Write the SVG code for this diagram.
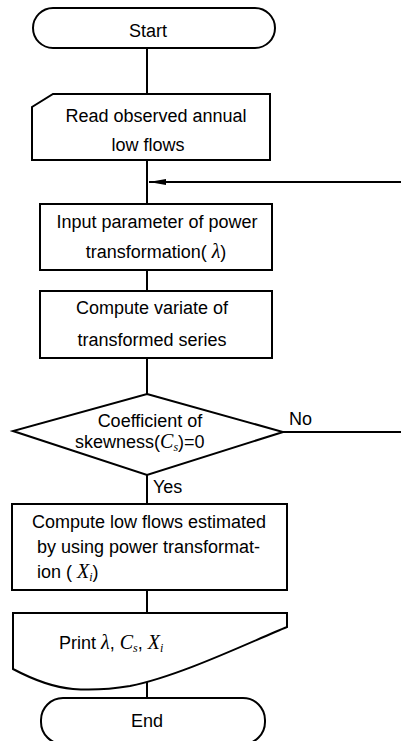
<svg xmlns="http://www.w3.org/2000/svg" width="401" height="741" viewBox="0 0 401 741">
  <style>
    .shape { fill: #fff; stroke: #000; stroke-width: 2; stroke-linejoin: miter; }
    .line { fill: none; stroke: #000; stroke-width: 2; }
    .t { font-family: "Liberation Sans", Arial, sans-serif; font-size: 18px; fill: #000; }
    .c { text-anchor: middle; }
    .m { font-family: "Liberation Serif", "Times New Roman", serif; font-style: italic; font-size: 20px; }
    .sub { font-size: 12px; }
  </style>
  <defs>
    <marker id="arrow" markerWidth="18" markerHeight="8" refX="17" refY="4" orient="auto" markerUnits="userSpaceOnUse">
      <path d="M0,1 L17,4 L0,7 Z" fill="#000"/>
    </marker>
  </defs>
  <rect width="401" height="741" fill="#fff"/>

  <!-- connectors -->
  <g id="connectors">
    <line class="line" x1="147" y1="48" x2="147" y2="94"/>
    <line class="line" x1="147" y1="160" x2="147" y2="204"/>
    <line class="line" x1="401" y1="182" x2="149" y2="182" marker-end="url(#arrow)"/>
    <line class="line" x1="147" y1="270" x2="147" y2="291"/>
    <line class="line" x1="147" y1="358" x2="147" y2="394"/>
    <line class="line" x1="283" y1="432" x2="401" y2="432"/>
    <line class="line" x1="147" y1="475" x2="147" y2="504"/>
    <line class="line" x1="147" y1="590" x2="147" y2="613"/>
    <line class="line" x1="147" y1="682" x2="147" y2="698"/>
    <text class="t" x="289" y="425">No</text>
    <text class="t" x="153" y="493">Yes</text>
  </g>

  <!-- start terminal -->
  <g id="start">
    <rect class="shape" x="33" y="8" width="242" height="40" rx="20" ry="20"/>
    <text class="t c" x="148" y="37">Start</text>
  </g>

  <!-- read input card -->
  <g id="read">
    <path class="shape" d="M53,94 H270 V160 H32 V107 Z"/>
    <text class="t c" x="156" y="122">Read observed annual</text>
    <text class="t c" x="148" y="151">low flows</text>
  </g>

  <!-- lambda input -->
  <g id="input">
    <rect class="shape" x="40" y="204" width="232" height="66"/>
    <text class="t c" x="157" y="228">Input parameter of power</text>
    <text class="t c" x="156" y="258">transformation(<tspan class="m"> λ</tspan>)</text>
  </g>

  <!-- transform -->
  <g id="transform">
    <rect class="shape" x="40" y="291" width="232" height="67"/>
    <text class="t c" x="152" y="314">Compute variate of</text>
    <text class="t c" x="152" y="346">transformed series</text>
  </g>

  <!-- skewness decision -->
  <g id="decision">
    <path class="shape" d="M147,394 L283,432 L147,475 L13,431 Z"/>
    <text class="t c" x="150" y="427">Coefficient of</text>
    <text class="t" x="75" y="448">skewness(<tspan class="m">C</tspan><tspan class="m sub" dy="3">s</tspan><tspan dy="-3">)=0</tspan></text>
  </g>

  <!-- estimate -->
  <g id="estimate">
    <rect class="shape" x="12" y="504" width="275" height="86"/>
    <text class="t" x="32" y="528">Compute low flows estimated</text>
    <text class="t" x="37" y="553">by using power transformat-</text>
    <text class="t" x="37" y="578">ion ( <tspan class="m">X</tspan><tspan class="m sub" dy="3">i</tspan><tspan dy="-3">)</tspan></text>
  </g>

  <!-- print output -->
  <g id="print">
    <path class="shape" d="M13,613 H287 V627 C250,642 180,676 130,686 Q100,691 73,689 C50,687 30,678 13,669 Z"/>
    <text class="t" x="59" y="649">Print <tspan class="m">λ</tspan>, <tspan class="m">C</tspan><tspan class="m sub" dy="3">s</tspan><tspan dy="-3">,  </tspan><tspan class="m">X</tspan><tspan class="m sub" dy="3">i</tspan></text>
  </g>

  <!-- end terminal -->
  <g id="end">
    <rect class="shape" x="41" y="698" width="224" height="46" rx="22" ry="22"/>
    <text class="t c" x="147" y="727">End</text>
  </g>
</svg>
